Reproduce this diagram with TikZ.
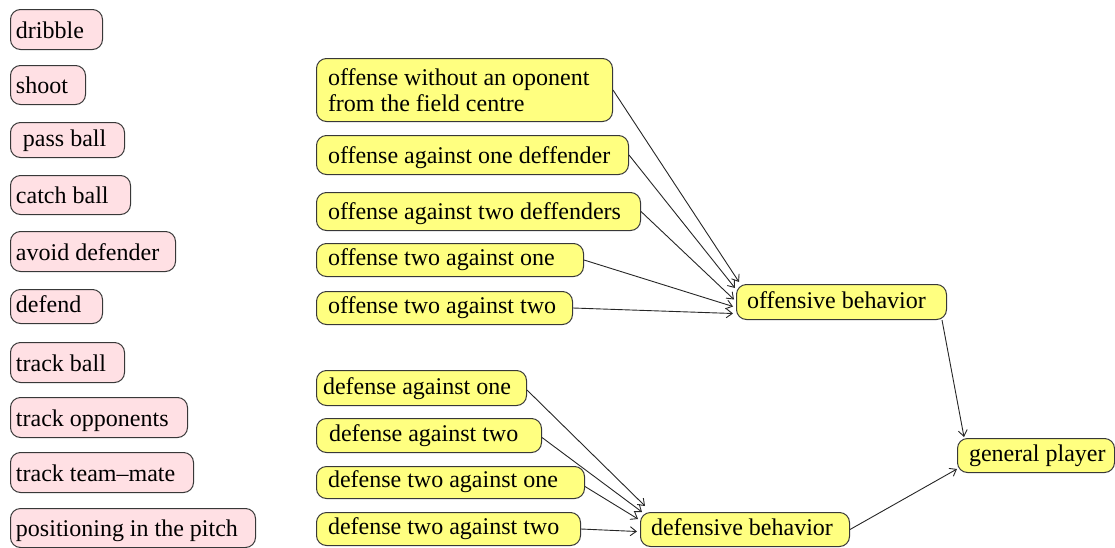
\documentclass[tikz,border=0pt]{standalone}
\usepackage{fontspec}
\setmainfont{Liberation Serif}
\usetikzlibrary{calc,arrows.meta}

\definecolor{skillfill}{HTML}{FFE0E4}
\definecolor{behavfill}{HTML}{FFFF80}
\definecolor{edgegray}{HTML}{383838}

\tikzset{
  x=0.5pt, y=-0.5pt,
  card/.style={draw=edgegray, line width=0.5pt, rounded corners=5pt,
    anchor=north west, inner xsep=0pt, inner ysep=0pt, align=left,
    font=\fontsize{12}{13}\selectfont},
  skill/.style={card, fill=skillfill},
  behav/.style={card, fill=behavfill},
  % left padding of the label (drawing units); natural word spacing of the font
  lpad/.style={execute at begin node={\leftskip=\dimexpr #1pt/2\relax
    \spaceskip=0pt\xspaceskip=0pt\relax\strut}},
  % one-line box: width and height in drawing units, baseline 11 units above the bottom
  dims/.style 2 args={text width={#1*0.5pt}, text height={(#2-11)*0.5pt},
    text depth=5.5pt},
  % multi-line box: width and height in drawing units
  dimsml/.style 2 args={text width={#1*0.5pt}, minimum height={#2*0.5pt}},
  link/.style={draw=black!85, line width=0.45pt,
    -{Straight Barb[length=3pt,width=4.5pt]}},
}

\begin{document}
\begin{tikzpicture}
\useasboundingbox (0,0) rectangle (1115,547);

% basic skills
\node[skill, dims={92}{40},  lpad=5.5]  (dribble)     at (10,9)   {dribble};
\node[skill, dims={75}{39},  lpad=5.5]  (shoot)       at (10,65)  {shoot};
\node[skill, dims={114}{35}, lpad=12.5] (pass)        at (10,122) {pass ball};
\node[skill, dims={120}{39}, lpad=5.5]  (catch)       at (10,175) {catch ball};
\node[skill, dims={165}{40}, lpad=5.5]  (avoid)       at (10,231) {avoid defender};
\node[skill, dims={92}{34},  lpad=5.5]  (defend)      at (10,289) {defend};
\node[skill, dims={114}{40}, lpad=5.5]  (trackball)   at (10,342) {track ball};
\node[skill, dims={177}{40}, lpad=5.5]  (trackopp)    at (10,397) {track opponents};
\node[skill, dims={183}{40}, lpad=5.5]  (trackmate)   at (10,452) {track team–mate};
\node[skill, dims={245}{39}, lpad=5.5]  (positioning) at (10,508) {positioning in the pitch};

% offensive situations
\node[behav, dimsml={296}{63}, lpad=11.5] (offNoOpp) at (316,58) {offense without an oponent\\from the field centre};
\node[behav, dims={312}{39}, lpad=11.5] (offOne)    at (316,135) {offense against one deffender};
\node[behav, dims={324}{38}, lpad=11.5] (offTwo)    at (316,192) {offense against two deffenders};
\node[behav, dims={267}{33}, lpad=11.5] (offTwoOne) at (316,243) {offense two against one};
\node[behav, dims={256}{33}, lpad=11.5] (offTwoTwo) at (316,291) {offense two against two};

% defensive situations
\node[behav, dims={210}{35}, lpad=6.5]  (defOne)    at (316,370) {defense against one};
\node[behav, dims={225}{34}, lpad=12.5] (defTwo)    at (316,418) {defense against two};
\node[behav, dims={268}{32}, lpad=11.5] (defTwoOne) at (316,466) {defense two against one};
\node[behav, dims={264}{33}, lpad=11.5] (defTwoTwo) at (316,512) {defense two against two};

% behaviours
\node[behav, dims={210}{35}, lpad=10.5] (offBeh) at (736,284) {offensive behavior};
\node[behav, dims={209}{34}, lpad=10.5] (defBeh) at (640,512) {defensive behavior};
\node[behav, dims={157}{34}, lpad=11.5] (player) at (957,438) {general player};

% offensive situations -> offensive behavior
\draw[link] (offNoOpp.east)  -- ($(offBeh.north west)+(3,-2)$);
\draw[link] (offOne.east)    -- ($(offBeh.north west)+(-1,4)$);
\draw[link] (offTwo.east)    -- ($(offBeh.west)+(-2,-2.5)$);
\draw[link] (offTwoOne.east) -- ($(offBeh.west)+(-3,4.5)$);
\draw[link] (offTwoTwo.east) -- ($(offBeh.west)+(-3,11.5)$);

% defensive situations -> defensive behavior
\draw[link] ($(defOne.east)+(0,2)$)    -- ($(defBeh.north west)+(5,-6)$);
\draw[link] ($(defTwo.east)+(0,2)$)    -- ($(defBeh.north west)+(2,0)$);
\draw[link] ($(defTwoOne.east)+(0,4)$) -- ($(defBeh.north west)+(-2,7)$);
\draw[link] (defTwoTwo.east)           -- ($(defBeh.west)+(-3,2)$);

% behaviours -> general player
\draw[link] ($(offBeh.south east)+(-5,0)$) -- ($(player.north west)+(7,-1)$);
\draw[link] (defBeh.east) -- ($(player.south west)+(0,-4)$);
\end{tikzpicture}
\end{document}
